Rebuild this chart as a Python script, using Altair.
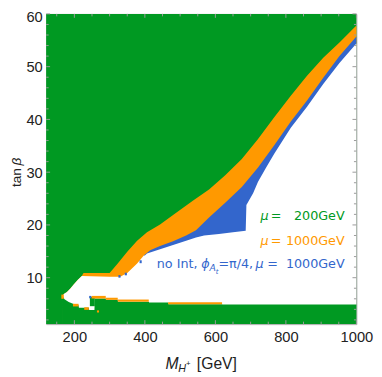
import altair as alt
import pandas as pd

# ---------------- data ----------------
XMIN, XMAX = 120, 1000
YMIN, YMAX = 1.2, 60

# upper edge of the non-excluded area (green above it)
TOP_X = [167, 170, 179, 188, 198, 210, 221, 226, 300, 323, 350, 378, 406, 443, 480,
         536, 582, 628, 675, 721, 767, 814, 860, 906, 952, 1000]
TOP_Y = [6.55, 6.9, 7.3, 7.9, 8.7, 9.6, 10.3, 10.9, 10.9, 12.7, 14.9, 17.0, 18.6, 20.1, 21.9,
         24.6, 26.7, 29.4, 32.5, 36.3, 40.4, 44.5, 48.3, 51.7, 54.6, 57.8]

# lower edge of the orange (mu = 1000 GeV) band
ORANGE_LOW_X = [221, 300, 330, 350, 378, 397, 415, 443, 480, 517, 545, 582, 628, 675,
                721, 767, 814, 860, 906, 952, 1000]
ORANGE_LOW_Y = [10.3, 10.2, 10.2, 10.9, 12.7, 14.2, 15.2, 16.0, 16.9, 18.0, 19.0, 21.4, 24.2, 27.2,
                30.9, 35.1, 39.6, 43.6, 47.9, 52.0, 55.7]

# lower edge of the blue (no Int) band
BLUE_LOW_X = [400, 406, 443, 480, 517, 545, 568, 610, 650, 686, 688, 707, 721, 744,
              767, 814, 860, 906, 952, 1000]
BLUE_LOW_Y = [14.2, 14.6, 15.4, 16.2, 17.0, 17.6, 18.0, 18.3, 18.6, 18.9, 23.8, 26.0, 28.2, 30.9,
              33.5, 38.4, 42.4, 46.7, 50.7, 54.4]

# upper edge of the green floor at small tan(beta)
FLOOR_X = [165, 167, 172, 184, 198, 212, 213, 241, 242, 257, 258, 289, 290, 323, 324,
           411, 412, 466, 467, 619, 620, 1000]
FLOOR_Y = [6.6, 6.55, 5.9, 5.4, 5.0, 4.8, 4.3, 4.3, 3.9, 3.9, 6.05, 6.05, 5.8, 5.8, 5.45,
           5.45, 5.3, 5.3, 4.95, 4.95, 4.9, 4.9]

# small patches: x, x2, y, y2
ORANGE_PATCH_X = [248.6, 289, 323, 466, 163, 196, 228, 264]
ORANGE_PATCH_X2 = [289, 323, 411, 619, 170, 212, 241, 270]
ORANGE_PATCH_Y = [6.05, 5.8, 5.45, 4.95, 6.0, 4.55, 3.9, 3.4]
ORANGE_PATCH_Y2 = [6.55, 6.2, 5.86, 5.35, 6.8, 5.05, 4.4, 3.8]

BLUE_PATCH_X = [242, 325, 343, 385]
BLUE_PATCH_X2 = [248, 331, 349, 391]
BLUE_PATCH_Y = [6.1, 10.0, 10.45, 12.75]
BLUE_PATCH_Y2 = [6.55, 10.5, 10.95, 13.3]

GREEN_PATCH_X = [244]
GREEN_PATCH_X2 = [258]
GREEN_PATCH_Y = [4.6]
GREEN_PATCH_Y2 = [6.35]

X_LABELS = [200, 400, 600, 800, 1000]
Y_LABELS = [10, 20, 30, 40, 50, 60]
X_MINOR = [v for v in range(150, 1000, 50) if v % 200 != 0]
Y_MINOR = [v for v in range(2, 60, 2) if v % 10 != 0]

# ---------------- styling ----------------
GREEN = "#009922"
ORANGE = "#FF9900"
BLUE = "#3366CC"
WHITE = "#FFFFFF"
TICK = "#9a9a9a"
W = H = 317
LABEL_FONT = "Liberation Sans"
ANN_FONT = "DejaVu Sans"

xscale = alt.Scale(domain=[XMIN, XMAX], nice=False, zero=False)
yscale = alt.Scale(domain=[YMIN, YMAX], nice=False, zero=False)
xaxis = alt.Axis(values=X_LABELS, format="d", ticks=False, domain=False, grid=False,
                 labelFont=LABEL_FONT, labelFontSize=15, labelColor="#222222",
                 labelPadding=6, labelFlush=False, labelOverlap=False)
yaxis = alt.Axis(values=Y_LABELS, format="d", ticks=False, domain=False, grid=False,
                 labelFont=LABEL_FONT, labelFontSize=15, labelColor="#222222",
                 labelPadding=4, labelFlush=False, labelOverlap=False,
                 labelOffset=alt.condition("datum.value == 60", alt.value(3), alt.value(0)))


def X(f):
    return alt.X(f, type="quantitative", scale=xscale, axis=xaxis, title="")


def Y(f):
    return alt.Y(f, type="quantitative", scale=yscale, axis=yaxis, title="")


def area(xs, ys, y2s, color):
    df = pd.DataFrame({"x": xs, "y": ys, "y2": y2s})
    return alt.Chart(df).mark_area(color=color, opacity=1).encode(
        x=X("x"), y=Y("y"), y2="y2")


def patches(xs, x2s, ys, y2s, color):
    df = pd.DataFrame({"x": xs, "x2": x2s, "y": ys, "y2": y2s})
    return alt.Chart(df).mark_rect(color=color).encode(
        x=X("x"), x2="x2", y=Y("y"), y2="y2")


# white top: TOP for x<=221, orange low up to 400, blue low from 400
wx, wy = [], []
for x, y in zip(TOP_X, TOP_Y):
    if x <= 221:
        wx.append(x); wy.append(y)
for x, y in zip(ORANGE_LOW_X, ORANGE_LOW_Y):
    if 221 < x < 400:
        wx.append(x); wy.append(y)
for x, y in zip(BLUE_LOW_X, BLUE_LOW_Y):
    wx.append(x); wy.append(y)

layers = []
layers.append(area([XMIN, XMAX], [YMIN, YMIN], [YMAX, YMAX], GREEN))
layers.append(area(TOP_X, [YMIN] * len(TOP_X), TOP_Y, ORANGE))
layers.append(area(ORANGE_LOW_X[5:], [YMIN] * len(ORANGE_LOW_X[5:]), ORANGE_LOW_Y[5:], BLUE))
layers.append(area(wx, [YMIN] * len(wx), wy, WHITE))
layers.append(area(FLOOR_X, [YMIN] * len(FLOOR_X), FLOOR_Y, GREEN))
layers.append(patches(GREEN_PATCH_X, GREEN_PATCH_X2, GREEN_PATCH_Y, GREEN_PATCH_Y2, GREEN))
layers.append(patches(ORANGE_PATCH_X, ORANGE_PATCH_X2, ORANGE_PATCH_Y, ORANGE_PATCH_Y2, ORANGE))
layers.append(patches(BLUE_PATCH_X, BLUE_PATCH_X2, BLUE_PATCH_Y, BLUE_PATCH_Y2, BLUE))

# frame ticks (inside, on all four sides)
for vals, ln in ((X_LABELS, 4), (X_MINOR, 2.5)):
    d = pd.DataFrame({"v": vals})
    layers.append(alt.Chart(d).mark_rule(color=TICK, strokeWidth=1).encode(
        x=X("v"), y=alt.value(H), y2=alt.value(H - ln)))
    layers.append(alt.Chart(d).mark_rule(color=TICK, strokeWidth=1).encode(
        x=X("v"), y=alt.value(0), y2=alt.value(ln)))
for vals, ln in ((Y_LABELS, 4), (Y_MINOR, 2.5)):
    d = pd.DataFrame({"v": vals})
    layers.append(alt.Chart(d).mark_rule(color=TICK, strokeWidth=1).encode(
        y=Y("v"), x=alt.value(0), x2=alt.value(ln)))
    layers.append(alt.Chart(d).mark_rule(color=TICK, strokeWidth=1).encode(
        y=Y("v"), x=alt.value(W), x2=alt.value(W - ln)))


def txt(s, px, py, color="#222222", size=13, italic=False, align="left",
        font=ANN_FONT, angle=0):
    kw = dict(text=s, align=align, baseline="alphabetic", font=font,
              fontSize=size, color=color)
    if italic:
        kw["fontStyle"] = "italic"
    if angle:
        kw["angle"] = angle
    return alt.Chart(alt.Data(values=[{"a": 0}])).mark_text(**kw).encode(
        x=alt.value(px), y=alt.value(py))


# legend-like annotations
layers += [
    txt("\u03bc", 219, 210.7, GREEN, italic=True),
    txt("=", 229.5, 210.7, GREEN),
    txt("200GeV", 305, 210.7, GREEN, align="right"),
    txt("\u03bc", 219, 236, ORANGE, italic=True),
    txt("=", 229.5, 236, ORANGE),
    txt("1000GeV", 305, 236, ORANGE, align="right"),
    txt("no Int,", 113, 259.5, BLUE),
    txt("\u03d5", 158.5, 259.5, BLUE, italic=True),
    txt("A", 167, 263, BLUE, size=9.5, italic=True),
    txt("t", 173.3, 265.5, BLUE, size=7, italic=True),
    txt("=\u03c0/4,", 176, 259.5, BLUE),
    txt("\u03bc", 214, 259.5, BLUE, italic=True),
    txt("=", 226, 259.5, BLUE),
    txt("1000GeV", 305, 259.5, BLUE, align="right"),
]

# axis titles
layers += [
    txt("M", 122, 362.5, "#222222", size=16, italic=True, font=LABEL_FONT),
    txt("H", 135, 366, "#222222", size=11, italic=True, font=LABEL_FONT),
    txt("+", 143, 360, "#222222", size=8, font=LABEL_FONT),
    txt("[GeV]", 154, 362.5, "#222222", size=16, font=LABEL_FONT),
    txt("tan", -26, 177, "#222222", size=14, font=LABEL_FONT, angle=270),
    txt("\u03b2", -26, 155, "#222222", size=14, italic=True, font=LABEL_FONT, angle=270),
]

chart = alt.layer(*layers).properties(
    width=W, height=H,
    padding={"left": 39, "top": 2, "right": 18, "bottom": 50},
    autosize=alt.AutoSizeParams(type="none"),
).configure_view(stroke="#aaaaaa", strokeWidth=1)

chart.save("out.html", embed_options={"renderer": "svg", "actions": False})
